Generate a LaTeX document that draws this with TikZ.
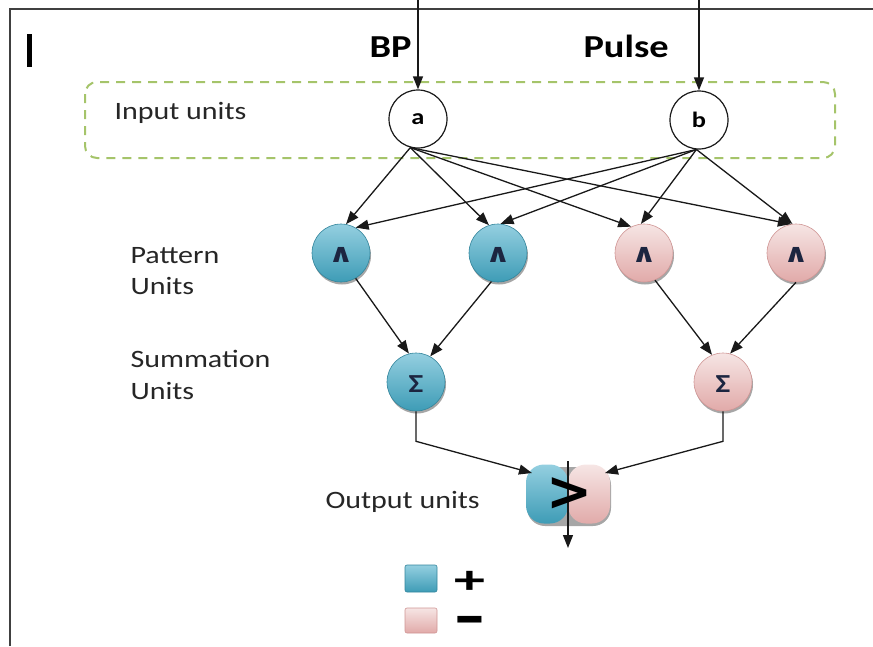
\documentclass[tikz,border=0pt]{standalone}
\usepackage{fontspec}
\setmainfont{Carlito}
\newfontfamily\dejavu{DejaVu Sans}
\usepackage{graphicx}
\usetikzlibrary{arrows.meta,shadows,calc}
\definecolor{aquaL}{HTML}{94CFE0}
\definecolor{aquaD}{HTML}{3E9CB6}
\definecolor{aquaE}{HTML}{33859C}
\definecolor{pinkL}{HTML}{F6E5E4}
\definecolor{pinkD}{HTML}{E1AAA9}
\definecolor{pinkE}{HTML}{CF9594}
\definecolor{dashgreen}{HTML}{A5C46A}
\definecolor{symb}{HTML}{1C2540}
\newcommand{\wx}[1]{\scalebox{1.2}[1]{#1}}
\begin{document}
\begin{tikzpicture}[x=1pt,y=-1pt,
  conn/.style={draw=black!90, line width=1.3pt, -{Triangle[length=13pt,width=10pt]}},
  inunit/.style={circle, draw=black!90, line width=1.2pt, fill=white, minimum size=58pt, inner sep=0pt,
     font=\fontsize{22}{22}\selectfont\bfseries},
  shad/.style={drop shadow={shadow xshift=1pt, shadow yshift=-2.5pt, opacity=0.35, fill=black}},
  posunit/.style={circle, minimum size=58pt, inner sep=0pt, top color=aquaL, bottom color=aquaD,
     draw=aquaE, line width=0.6pt, shad},
  negunit/.style={circle, minimum size=58pt, inner sep=0pt, top color=pinkL, bottom color=pinkD,
     draw=pinkE, line width=0.6pt, shad},
  symtext/.style={text=symb, inner sep=0pt, font=\fontsize{26}{26}\selectfont\bfseries},
  lbl/.style={anchor=base west, font=\fontsize{25}{25}\selectfont, text=black!85},
  big/.style={anchor=base west, font=\fontsize{32}{32}\selectfont\bfseries},
  outunit/.style={rectangle, rounded corners=18pt, minimum width=84pt, minimum height=59pt, inner sep=0pt,
     shad,
     path picture={
       \shade[top color=aquaL, bottom color=aquaD] (path picture bounding box.north west) rectangle (path picture bounding box.south);
       \shade[top color=pinkL, bottom color=pinkD] (path picture bounding box.north) rectangle (path picture bounding box.south east);
     }},
  gtsign/.style={inner sep=0pt, font=\dejavu\fontsize{55}{55}\selectfont\bfseries},
  legpos/.style={rectangle, rounded corners=2pt, minimum width=32pt, minimum height=27pt, inner sep=0pt,
     top color=aquaL, bottom color=aquaD, draw=aquaE, line width=0.6pt},
  legneg/.style={rectangle, rounded corners=2pt, minimum width=32pt, minimum height=25pt, inner sep=0pt,
     top color=pinkL, bottom color=pinkD, draw=pinkE, line width=0.6pt},
  legsign/.style={inner sep=0pt, font=\fontsize{40}{40}\selectfont\bfseries}
]
\useasboundingbox (0,0) rectangle (873,646);
% frame
\draw[line width=2pt, black!75] (10,646) -- (10,9) -- (873,9);
\fill[black] (27,34) rectangle (32,67);

% input units region
\draw[dashgreen, line width=2pt, dash pattern=on 9pt off 7pt, rounded corners=12pt] (85,82) rectangle (835,158);
\node[lbl] (linput) at (111,119) {\wx{Input units}};

\node[big] (lbp) at (366,57) {\wx{BP}};
\node[big] (lpulse) at (580,57) {\wx{Pulse}};

\coordinate (ta) at (418,0);
\coordinate (tb) at (699,0);
\node[inunit] (a) at (418,119) {\wx{a}};
\node[inunit] (b) at (699,120) {\wx{b}};
\draw[conn] (ta) -- (a.north);
\draw[conn] (tb) -- (b.north);

% pattern units
\node[posunit] (p1) at (341,253) {};
\node[posunit] (p2) at (498,253) {};
\node[negunit] (p3) at (644,253) {};
\node[negunit] (p4) at (796,253) {};
\foreach \n in {p1,p2,p3,p4}{\node[symtext] at ([yshift=-2pt]\n.center) {\dejavu\wx{∧}};}

\node[lbl] (lpat1) at (127,263) {\wx{Pattern}};
\node[lbl] (lpat2) at (127,294) {\wx{Units}};

% summation units
\node[posunit] (s1) at (416,382) {};
\node[negunit] (s2) at (723,382) {};
\node[symtext] at ([yshift=-2pt]s1.center) {\wx{Σ}};
\node[symtext] at ([yshift=-2pt]s2.center) {\wx{Σ}};

\node[lbl] (lsum1) at (127,367) {\wx{Summation}};
\node[lbl] (lsum2) at (127,399) {\wx{Units}};

% connectors input -> pattern
\draw[conn] (a.255) -- (p1.80);
\draw[conn] (a.255) -- (p2.108);
\draw[conn] (a.255) -- (p3.116);
\draw[conn] (a.255) -- (p4.100);
\draw[conn] (b.265) -- (p1.60);
\draw[conn] (b.265) -- (p2.85);
\draw[conn] (b.265) -- (p3.96);
\draw[conn] (b.265) -- (p4.97);

% pattern -> summation
\draw[conn] (p1.-60) -- (s1.104);
\draw[conn] (p2.257) -- (s1.61);
\draw[conn] (p3.-68) -- (s2.112);
\draw[conn] (p4.270) -- (s2.76);

% output unit
\node[outunit] (o) at (568,494) {};
\node[lbl] (lout) at (322,508) {\wx{Output units}};
\coordinate (out) at (568,548);
\draw[conn] ([yshift=3pt]o.north) -- (out);
\node[gtsign] (gt) at ([xshift=2pt]o.center) {>};
\draw[conn] (s1.south) -- ++(0,30) -- ($(o.center)+(-36,-21)$);
\draw[conn] (s2.south) -- ++(0,30) -- ($(o.center)+(37,-21)$);

% legend
\node[legpos] (kp) at (421,578.5) {};
\node[legneg] (kn) at (421,620.5) {};
\node[legsign, anchor=base] (kps) at (470,593) {\smash{\scalebox{1.55}[1]{+}}};
\node[legsign, anchor=base] (kns) at (470,642) {\smash{\scalebox{1.55}[1.8]{−}}};
\end{tikzpicture}
\end{document}
